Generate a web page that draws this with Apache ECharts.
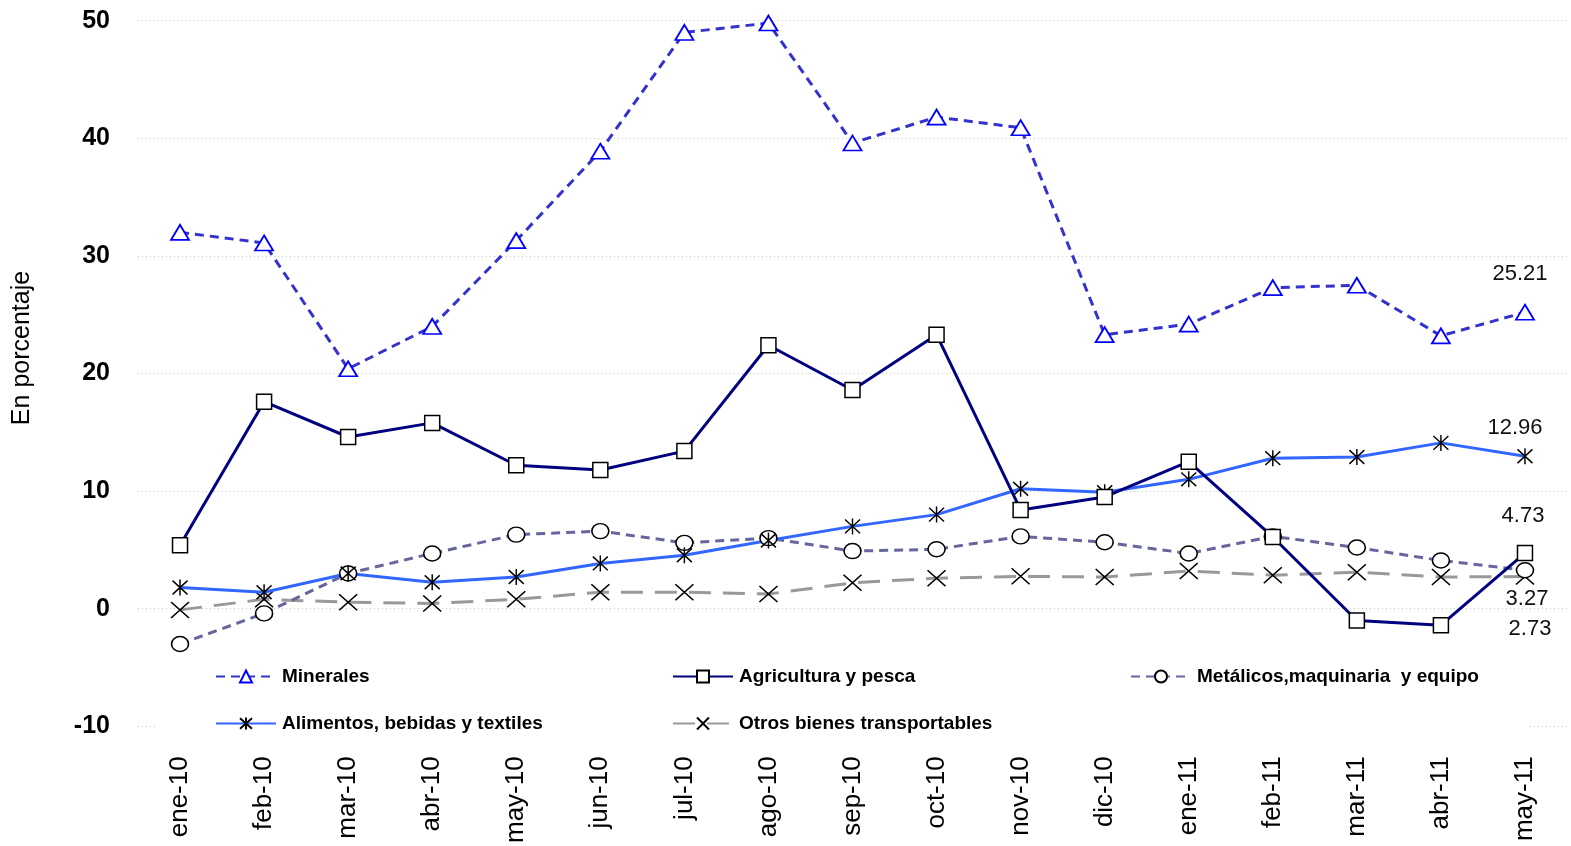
<!DOCTYPE html>
<html>
<head>
<meta charset="utf-8">
<script src="https://cdn.jsdelivr.net/npm/echarts@6/dist/echarts.min.js"></script>
<style>
html,body{margin:0;padding:0;background:#fff;}
#chart{width:1571px;height:846px;}
</style>
</head>
<body>
<div id="chart"></div>
<script>
const categories = ['ene-10','feb-10','mar-10','abr-10','may-10','jun-10','jul-10','ago-10','sep-10','oct-10','nov-10','dic-10','ene-11','feb-11','mar-11','abr-11','may-11'];
const minerales = [32.0,31.1,20.4,24.0,31.3,38.9,49.0,49.8,39.6,41.8,40.9,23.3,24.2,27.3,27.5,23.2,25.21];
const agricultura = [5.4,17.6,14.6,15.8,12.2,11.8,13.4,22.4,18.6,23.3,8.4,9.5,12.5,6.1,-1.0,-1.4,4.73];
const metalicos = [-3.0,-0.4,3.0,4.7,6.3,6.6,5.6,6.0,4.9,5.05,6.15,5.65,4.7,6.15,5.2,4.1,3.27];
const alimentos = [1.8,1.4,3.0,2.25,2.7,3.85,4.55,5.8,7.0,8.0,10.2,9.9,11.0,12.8,12.9,14.1,12.96];
const otros = [-0.1,0.8,0.55,0.45,0.8,1.4,1.4,1.25,2.2,2.6,2.75,2.7,3.2,2.85,3.1,2.7,2.73];
const yTicks = {min:-10, max:50, interval:10};
const names = ['Minerales','Agricultura y pesca','Metálicos,maquinaria  y equipo','Alimentos, bebidas y textiles','Otros bienes transportables'];

const narrow = '"Liberation Sans Narrow", "Arial Narrow", "Liberation Sans", sans-serif';
const regular = '"Liberation Sans", Arial, sans-serif';

function withLastLabel(arr, offset){
  const last = arr.length - 1;
  return arr.map((v,i)=> i===last ? {value:v, label:{show:true, position:'inside', offset:offset, formatter:(p)=>p.value.toFixed(2), color:'#111', fontSize:22, fontFamily:regular}} : v);
}

const chart = echarts.init(document.getElementById('chart'), null, {renderer:'canvas'});
const legendBase = {orient:'horizontal', padding:0, itemWidth:60, itemHeight:15, itemGap:6,
  textStyle:{fontFamily:narrow, fontWeight:'bold', fontSize:19, color:'#000', padding:[0,0,0,1]}};
const asterisk = 'path://M0 0L10 12M10 0L0 12M5 -1L5 13';
const cross = 'path://M0 0L12 12M12 0L0 12';

chart.setOption({
  animation:false,
  backgroundColor:'#fff',
  grid:{left:138, right:4, top:20.7, bottom:118.7},
  graphic:[
    {type:'rect', z:1, shape:{x:158, y:652, width:1372, height:93}, style:{fill:'#fff'}},
    {type:'text', z:5, x:22, y:348, rotation:Math.PI/2, style:{text:'En porcentaje', font:'25px '+regular, fill:'#000', align:'center', verticalAlign:'middle'}}
  ],
  legend:[
    Object.assign({}, legendBase, {data:[names[0]], left:215, top:667}),
    Object.assign({}, legendBase, {data:[names[1]], left:672, top:667}),
    Object.assign({}, legendBase, {data:[names[2]], left:1130, top:667}),
    Object.assign({}, legendBase, {data:[names[3]], left:215, top:714}),
    Object.assign({}, legendBase, {data:[names[4]], left:672, top:714})
  ],
  xAxis:{type:'category', data:categories, boundaryGap:true,
    axisLine:{show:false}, axisTick:{show:false},
    axisLabel:{rotate:90, margin:30, fontSize:26, fontFamily:regular, color:'#000', interval:0}},
  yAxis:{type:'value', min:yTicks.min, max:yTicks.max, interval:yTicks.interval,
    axisLine:{show:false}, axisTick:{show:false},
    axisLabel:{margin:28, fontSize:25, fontWeight:'bold', fontFamily:narrow, color:'#000'},
    splitLine:{lineStyle:{color:'#c8c8c8', type:[1,3], width:1}}},
  series:[
    {name:names[0], type:'line', data:withLastLabel(minerales,[-5,-38]), z:3,
      symbol:'triangle', symbolSize:[18,15],
      lineStyle:{color:'#3333cc', width:3, type:[9,6]},
      itemStyle:{color:'#fff', borderColor:'#0000ff', borderWidth:1.8}},
    {name:names[1], type:'line', data:withLastLabel(agricultura,[-2,-37]), z:4,
      symbol:'rect', symbolSize:15,
      lineStyle:{color:'#000080', width:3},
      itemStyle:{color:'#fff', borderColor:'#000', borderWidth:1.5}},
    {name:names[2], type:'line', data:withLastLabel(metalicos,[2,29]), z:3,
      symbol:'circle', symbolSize:[17,15],
      lineStyle:{color:'#66669e', width:3, type:[9,6]},
      itemStyle:{color:'#fff', borderColor:'#000', borderWidth:1.5}},
    {name:names[3], type:'line', data:withLastLabel(alimentos,[-10,-28]), z:3,
      symbol:asterisk, symbolSize:[15,16],
      lineStyle:{color:'#3366ff', width:3},
      itemStyle:{color:'#000', borderColor:'#000', borderWidth:1.5}},
    {name:names[4], type:'line', data:withLastLabel(otros,[5,52]), z:2,
      symbol:cross, symbolSize:[18,16],
      lineStyle:{color:'#999999', width:3, type:[22,12]},
      itemStyle:{color:'#000', borderColor:'#000', borderWidth:1.5}}
  ]
});
</script>
</body>
</html>
